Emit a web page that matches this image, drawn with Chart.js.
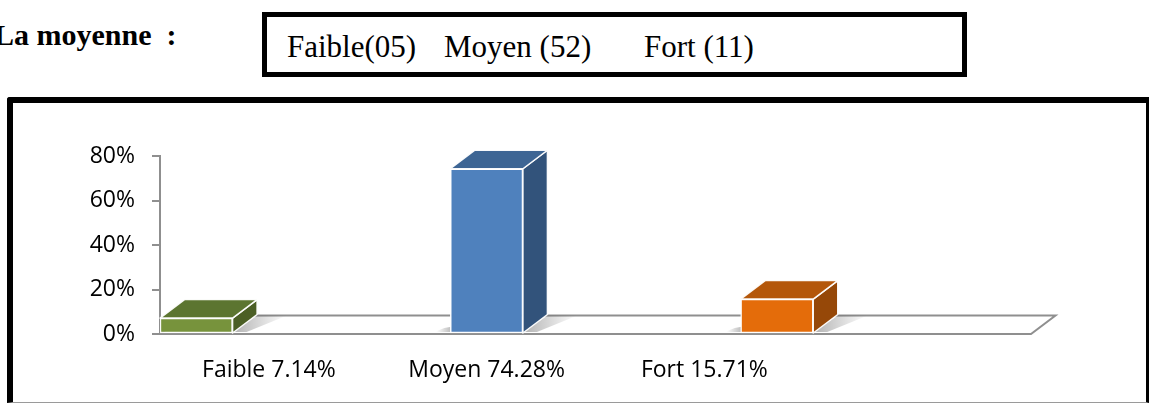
<!DOCTYPE html>
<html>
<head>
<meta charset="utf-8">
<script src="https://cdn.jsdelivr.net/npm/chart.js@4.4.1/dist/chart.umd.min.js"></script>
<style>
html,body{margin:0;padding:0;background:#fff;width:1149px;height:403px;overflow:hidden;position:relative;}
#title{position:absolute;left:-6px;top:20px;font:bold 30px "Liberation Serif","Times New Roman",serif;line-height:1;white-space:pre;color:#000;}
#box{position:absolute;left:262px;top:12px;width:705px;height:65px;border:5px solid #000;box-sizing:border-box;}
.bt{position:absolute;top:31px;font:31px "Liberation Serif","Times New Roman",serif;line-height:1;white-space:pre;color:#000;}
#frame{position:absolute;left:7px;top:97px;width:1142px;height:306px;box-sizing:border-box;border-left:6px solid #000;border-top:6px solid #000;border-right:3px solid #000;border-bottom:1px solid #9a9a9a;border-top-left-radius:3px;}
#wrap{position:absolute;left:0;top:0;width:1149px;height:403px;}
</style>
</head>
<body>
<div id="title">La moyenne  :</div>
<div id="box"></div>
<div class="bt" style="left:287px">Faible(05)</div>
<div class="bt" style="left:444px">Moyen (52)</div>
<div class="bt" style="left:644px">Fort (11)</div>
<div id="frame"></div>
<div id="wrap"><canvas id="c"></canvas></div>
<script>
// ---- data ----
const categories = ['Faible 7.14%', 'Moyen 74.28%', 'Fort 15.71%', ''];
const seriesNames = ['Faible', 'Moyen', 'Fort'];
const seriesValues = [7.14, 74.28, 15.71];
const counts = [5, 52, 11];
const yTicks = [0, 20, 40, 60, 80];

// ---- styles ----
const frontColors = ['#77933C', '#4F81BD', '#E46C0A'];
const topColors = ['#5C7530', '#3D6594', '#B4570A'];
const sideColors = ['#4B5F25', '#32537B', '#964808'];
const DX = 24.5, DY = -18.5;

const datasets = seriesNames.map((name, i) => ({
  label: name,
  data: categories.map((c, j) => (j === i ? seriesValues[i] : null)),
  backgroundColor: frontColors[i],
  borderColor: 'rgba(255,255,255,0.95)',
  borderWidth: 1.5,
  borderSkipped: false,
  categoryPercentage: 1.0,
  barPercentage: 1.0
}));

function eachBar(chart, fn) {
  chart.data.datasets.forEach((ds, i) => {
    const meta = chart.getDatasetMeta(i);
    meta.data.forEach((el, j) => {
      if (ds.data[j] == null) return;
      const p = el.getProps(['x', 'y', 'base', 'width'], true);
      fn(i, p.x - p.width / 2, p.x + p.width / 2, p.y, p.base);
    });
  });
}

const threeD = {
  id: 'threeD',
  beforeDatasetsDraw(chart) {
    const ctx = chart.ctx, a = chart.chartArea;
    const b = chart.scales.y.getPixelForValue(0);
    ctx.save();
    ctx.beginPath();
    ctx.moveTo(a.left, b);
    ctx.lineTo(a.right, b);
    ctx.lineTo(a.right + DX, b + DY);
    ctx.lineTo(a.left + DX, b + DY);
    ctx.closePath();
    ctx.fillStyle = '#ffffff';
    ctx.fill();
    ctx.strokeStyle = '#8f8f8f';
    ctx.lineWidth = 2;
    ctx.stroke();
    // soft shadows on the floor
    eachBar(chart, (i, x0, x1, yTop, base) => {
      let g = ctx.createLinearGradient(x1, 0, x1 + DX + 30, 0);
      g.addColorStop(0, 'rgba(0,0,0,0.30)');
      g.addColorStop(1, 'rgba(0,0,0,0)');
      ctx.beginPath();
      ctx.moveTo(x1, base - 1);
      ctx.lineTo(x1 + DX, base + DY + 1);
      ctx.lineTo(x1 + DX + 30, base + DY + 1);
      ctx.lineTo(x1 + 14, base - 1);
      ctx.closePath();
      ctx.fillStyle = g;
      ctx.fill();
      g = ctx.createLinearGradient(x0, 0, x0 - 14, 0);
      g.addColorStop(0, 'rgba(0,0,0,0.25)');
      g.addColorStop(1, 'rgba(0,0,0,0)');
      ctx.beginPath();
      ctx.moveTo(x0, base - 1);
      ctx.lineTo(x0 + 8, base + DY * 0.4);
      ctx.lineTo(x0 - 6, base - 5);
      ctx.lineTo(x0 - 16, base - 1);
      ctx.closePath();
      ctx.fillStyle = g;
      if (x0 > chart.chartArea.left + 2) ctx.fill();
    });
    ctx.restore();
  },
  afterDatasetsDraw(chart) {
    const ctx = chart.ctx;
    ctx.save();
    ctx.lineJoin = 'round';
    eachBar(chart, (i, x0, x1, yTop, base) => {
      // side face
      ctx.beginPath();
      ctx.moveTo(x1, yTop);
      ctx.lineTo(x1 + DX, yTop + DY);
      ctx.lineTo(x1 + DX, base + DY);
      ctx.lineTo(x1, base);
      ctx.closePath();
      ctx.fillStyle = sideColors[i];
      ctx.fill();
      ctx.strokeStyle = 'rgba(255,255,255,0.95)';
      ctx.lineWidth = 1.5;
      ctx.stroke();
      // top face
      ctx.beginPath();
      ctx.moveTo(x0, yTop);
      ctx.lineTo(x1, yTop);
      ctx.lineTo(x1 + DX, yTop + DY);
      ctx.lineTo(x0 + DX, yTop + DY);
      ctx.closePath();
      ctx.fillStyle = topColors[i];
      ctx.fill();
      ctx.stroke();
    });
    ctx.restore();
  }
};

new Chart(document.getElementById('c'), {
  type: 'bar',
  data: { labels: categories, datasets: datasets },
  options: {
    responsive: true,
    maintainAspectRatio: false,
    animation: false,
    events: [],
    layout: { padding: { top: 156, right: 118, bottom: 0, left: 0 } },
    plugins: { legend: { display: false }, tooltip: { enabled: false } },
    scales: {
      x: {
        afterFit(s) { s.height = 69; },
        grid: { display: false },
        border: { display: false },
        ticks: {
          autoSkip: false, maxRotation: 0, padding: 15,
          color: '#000', font: { family: '"Open Sans", sans-serif', size: 23 }
        }
      },
      y: {
        min: 0, max: 80,
        afterFit(s) { s.width = 160; },
        afterBuildTicks(s) { s.ticks = yTicks.map(v => ({ value: v })); },
        grid: { drawOnChartArea: false, drawTicks: true, tickLength: 8, color: '#8f8f8f', lineWidth: 2 },
        border: { display: true, color: '#8f8f8f', width: 2 },
        ticks: {
          padding: 17, color: '#000',
          font: { family: '"Open Sans", sans-serif', size: 23 },
          callback: v => v + '%'
        }
      }
    }
  },
  plugins: [threeD]
});
</script>
</body>
</html>
